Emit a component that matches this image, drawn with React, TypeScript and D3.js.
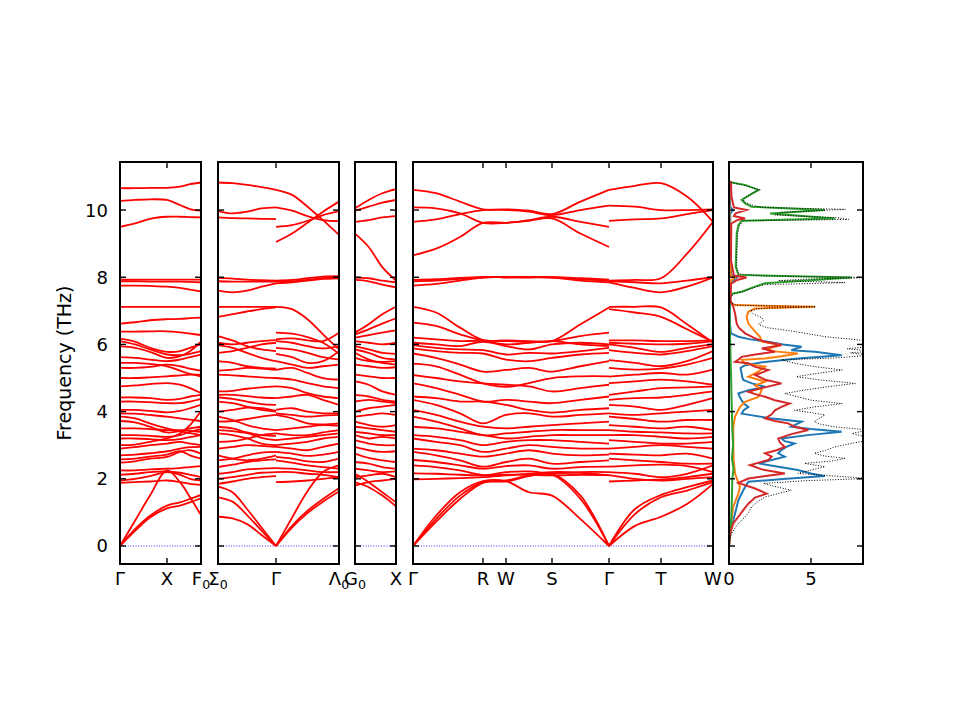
import React from "react";
import * as d3 from "d3";

// frequency ticks (THz) shared by all panels
const freqTicks = [0, 2, 4, 6, 8, 10];
const dosTicks = [0, 5];

// special q-points along each band panel (cumulative path distance)
const pathTicks = [
  [0, 0.47, 0.81],
  [0, 0.58, 1.21],
  [0, 0.41],
  [0, 0.7, 0.93, 1.39, 1.96, 2.48, 3.0],
];
const pathLabels = [
  ["Γ", "X", "F_0"],
  ["Σ_0", "Γ", "Λ_0"],
  ["G_0", "X"],
  ["Γ", "R", "W", "S", "Γ", "T", "W"],
];

// ---- band data, one block per continuous path segment ----
const kGammaXF = [0, 0.15, 0.3, 0.47, 0.6, 0.7, 0.81];
const bandsGammaXF = [
  [10.65, 10.65, 10.66, 10.66, 10.7, 10.77, 10.82],
  [10.27, 10.3, 10.32, 10.3, 10.15, 10.03, 9.98],
  [9.5, 9.6, 9.74, 9.8, 9.8, 9.79, 9.78],
  [7.93, 7.93, 7.93, 7.93, 7.93, 7.93, 7.93],
  [7.88, 7.88, 7.87, 7.87, 7.87, 7.86, 7.85],
  [7.75, 7.75, 7.74, 7.72, 7.68, 7.63, 7.58],
  [7.12, 7.12, 7.12, 7.12, 7.12, 7.12, 7.12],
  [6.62, 6.66, 6.72, 6.75, 6.76, 6.78, 6.8],
  [6.38, 6.38, 6.39, 6.39, 6.36, 6.32, 6.28],
  [6.17, 6.08, 5.9, 5.78, 5.8, 5.9, 6.0],
  [6.1, 6.0, 5.85, 5.7, 5.68, 5.72, 5.8],
  [5.95, 5.9, 5.78, 5.6, 5.65, 5.8, 6.08],
  [5.62, 5.6, 5.55, 5.5, 5.55, 5.62, 5.7],
  [5.45, 5.45, 5.42, 5.35, 5.22, 5.12, 5.05],
  [5.3, 5.3, 5.33, 5.4, 5.35, 5.28, 5.22],
  [5.0, 5.0, 5.02, 5.05, 5.08, 5.1, 5.1],
  [4.75, 4.78, 4.82, 4.85, 4.8, 4.7, 4.55],
  [4.42, 4.42, 4.4, 4.35, 4.38, 4.45, 4.5],
  [4.3, 4.3, 4.28, 4.25, 4.25, 4.3, 4.38],
  [4.05, 4.05, 4.02, 3.98, 4.02, 4.1, 4.2],
  [3.95, 3.94, 3.9, 3.85, 3.8, 3.76, 3.72],
  [3.85, 3.8, 3.65, 3.5, 3.42, 3.36, 3.3],
  [3.72, 3.68, 3.55, 3.38, 3.42, 3.5, 3.55],
  [3.5, 3.5, 3.48, 3.45, 3.45, 3.43, 3.4],
  [3.3, 3.3, 3.28, 3.25, 3.3, 3.4, 3.48],
  [3.2, 3.2, 3.18, 3.15, 3.18, 3.24, 3.3],
  [3.0, 3.02, 3.1, 3.2, 3.35, 3.6, 4.02],
  [2.9, 2.94, 3.0, 3.05, 3.1, 3.05, 3.0],
  [2.7, 2.72, 2.76, 2.82, 2.9, 2.94, 2.95],
  [2.58, 2.6, 2.66, 2.72, 2.82, 2.7, 2.6],
  [2.48, 2.52, 2.6, 2.65, 2.8, 2.85, 2.75],
  [2.25, 2.25, 2.28, 2.3, 2.32, 2.35, 2.38],
  [2.12, 2.15, 2.2, 2.22, 2.18, 2.12, 2.05],
  [1.95, 2.0, 2.08, 2.2, 2.12, 2.0, 1.95],
  [1.88, 1.9, 1.92, 1.95, 1.9, 1.85, 1.82],
  [0, 0.75, 1.5, 2.25, 1.9, 1.45, 0.92],
  [0, 0.5, 0.9, 1.2, 1.3, 1.4, 1.52],
  [0, 0.45, 0.85, 1.12, 1.2, 1.3, 1.42],
];

const kSigmaGamma = [0, 0.145, 0.29, 0.435, 0.58];
const bandsSigmaGamma = [
  [10.82, 10.8, 10.75, 10.68, 10.6],
  [9.97, 9.9, 9.95, 10.05, 10.08],
  [9.78, 9.76, 9.75, 9.74, 9.73],
  [7.98, 7.96, 7.93, 7.91, 7.9],
  [7.88, 7.87, 7.87, 7.87, 7.87],
  [7.6, 7.55, 7.6, 7.72, 7.82],
  [7.12, 7.12, 7.12, 7.12, 7.12],
  [6.82, 6.9, 6.98, 7.05, 7.1],
  [6.25, 6.12, 5.95, 5.85, 5.8],
  [6.05, 6.0, 6.05, 6.1, 6.13],
  [5.98, 5.9, 5.75, 5.6, 5.5],
  [5.75, 5.8, 5.9, 6.0, 6.05],
  [5.5, 5.45, 5.35, 5.3, 5.28],
  [5.22, 5.25, 5.3, 5.28, 5.24],
  [5.1, 5.08, 5.05, 5.02, 5.0],
  [4.6, 4.62, 4.68, 4.72, 4.75],
  [4.5, 4.5, 4.46, 4.42, 4.4],
  [4.42, 4.38, 4.3, 4.22, 4.2],
  [4.3, 4.25, 4.15, 4.05, 4.0],
  [4.0, 4.05, 4.12, 4.1, 4.02],
  [3.85, 3.75, 3.6, 3.5, 3.45],
  [3.7, 3.72, 3.78, 3.85, 3.9],
  [3.55, 3.5, 3.38, 3.3, 3.28],
  [3.45, 3.42, 3.36, 3.22, 3.15],
  [3.35, 3.3, 3.2, 3.05, 3.0],
  [3.1, 3.12, 3.2, 3.3, 3.35],
  [2.9, 2.95, 3.0, 2.98, 2.95],
  [2.7, 2.6, 2.55, 2.6, 2.7],
  [2.55, 2.6, 2.7, 2.78, 2.8],
  [2.35, 2.42, 2.5, 2.55, 2.58],
  [2.15, 2.2, 2.28, 2.3, 2.32],
  [2.0, 2.05, 2.12, 2.18, 2.2],
  [1.85, 1.92, 2.0, 2.05, 2.08],
  [1.77, 1.6, 1.1, 0.55, 0],
  [1.45, 1.32, 0.92, 0.46, 0],
  [0.87, 0.82, 0.65, 0.33, 0],
];

const kGammaLambda = [0.58, 0.74, 0.895, 1.05, 1.21];
const bandsGammaLambda = [
  [10.6, 10.45, 10.1, 9.7, 9.26],
  [10.08, 9.98, 9.82, 9.7, 9.67],
  [9.5, 9.55, 9.68, 9.85, 9.97],
  [9.05, 9.3, 9.62, 9.95, 10.25],
  [7.9, 7.92, 7.97, 8.02, 8.03],
  [7.87, 7.88, 7.92, 7.97, 8.0],
  [7.82, 7.85, 7.9, 7.95, 7.97],
  [7.12, 7.05, 6.75, 6.3, 5.85],
  [6.35, 6.32, 6.22, 6.05, 5.72],
  [6.15, 6.18, 6.12, 6.1, 6.35],
  [6.1, 6.05, 5.95, 5.88, 5.95],
  [5.9, 5.85, 5.75, 5.62, 5.55],
  [5.72, 5.62, 5.45, 5.5, 5.8],
  [5.5, 5.4, 5.3, 5.35, 5.4],
  [5.24, 5.3, 5.15, 5.0, 4.95],
  [5.0, 4.95, 4.85, 4.75, 4.7],
  [4.75, 4.7, 4.55, 4.45, 4.4],
  [4.4, 4.45, 4.5, 4.35, 4.2],
  [4.05, 4.1, 4.0, 3.95, 3.95],
  [3.95, 3.9, 3.85, 3.88, 3.9],
  [3.9, 3.8, 3.65, 3.62, 3.65],
  [3.45, 3.5, 3.55, 3.6, 3.58],
  [3.35, 3.3, 3.3, 3.38, 3.45],
  [3.15, 3.2, 3.25, 3.3, 3.35],
  [3.0, 3.05, 3.1, 3.2, 3.25],
  [2.95, 2.9, 2.85, 2.95, 3.05],
  [2.8, 2.75, 2.68, 2.72, 2.8],
  [2.65, 2.6, 2.52, 2.5, 2.6],
  [2.55, 2.48, 2.4, 2.35, 2.3],
  [2.32, 2.3, 2.25, 2.2, 2.2],
  [2.2, 2.2, 2.15, 2.12, 2.05],
  [1.9, 1.92, 1.95, 2.0, 2.05],
  [0, 0.84, 1.63, 2.2, 2.4],
  [0, 0.6, 1.05, 1.4, 1.72],
  [0, 0.55, 0.98, 1.32, 1.62],
];

const kGX = [0, 0.137, 0.273, 0.41];
const bandsGX = [
  [10.05, 10.3, 10.5, 10.62],
  [9.98, 10.1, 10.22, 10.3],
  [9.65, 9.7, 9.78, 9.82],
  [9.3, 8.9, 8.3, 7.9],
  [7.99, 7.97, 7.9, 7.85],
  [7.92, 7.88, 7.78, 7.7],
  [6.35, 6.6, 6.9, 7.12],
  [6.3, 6.45, 6.62, 6.78],
  [6.2, 6.28, 6.35, 6.42],
  [6.1, 6.05, 6.0, 6.05],
  [5.95, 5.85, 5.75, 5.72],
  [5.85, 5.75, 5.6, 5.55],
  [5.75, 5.55, 5.45, 5.4],
  [5.6, 5.5, 5.48, 5.5],
  [5.4, 5.35, 5.3, 5.32],
  [5.1, 5.05, 5.0, 5.0],
  [4.9, 4.8, 4.6, 4.5],
  [4.5, 4.45, 4.35, 4.3],
  [4.3, 4.35, 4.3, 4.25],
  [4.0, 4.1, 4.15, 4.2],
  [3.85, 3.9, 3.95, 3.9],
  [3.7, 3.6, 3.55, 3.6],
  [3.55, 3.5, 3.45, 3.4],
  [3.4, 3.35, 3.3, 3.3],
  [3.3, 3.2, 3.25, 3.2],
  [3.15, 3.05, 3.0, 3.0],
  [2.95, 2.85, 2.8, 2.82],
  [2.75, 2.62, 2.55, 2.5],
  [2.5, 2.45, 2.35, 2.3],
  [2.3, 2.25, 2.2, 2.22],
  [2.05, 2.1, 2.15, 2.05],
  [2.15, 1.9, 1.6, 1.3],
  [1.9, 1.75, 1.5, 1.18],
  [1.8, 1.9, 1.95, 2.0],
];

const kGRWSG = [0, 0.23, 0.47, 0.7, 0.93, 1.16, 1.39, 1.675, 1.96];
const bandsGRWSG = [
  [10.6, 10.5, 10.25, 10.02, 10.02, 9.98, 9.88, 10.25, 10.6],
  [10.08, 10.05, 9.9, 9.62, 9.62, 9.7, 9.8, 9.65, 9.5],
  [9.65, 9.72, 9.88, 10.0, 10.0, 9.95, 9.85, 10.0, 10.13],
  [8.65, 8.85, 9.2, 9.62, 9.62, 9.68, 9.75, 9.3, 8.9],
  [7.92, 7.94, 7.98, 8.0, 8.0, 8.0, 8.0, 7.97, 7.93],
  [7.88, 7.9, 7.95, 8.0, 8.0, 8.0, 8.0, 7.94, 7.9],
  [7.75, 7.8, 7.9, 7.99, 8.0, 8.0, 7.99, 7.9, 7.85],
  [7.12, 6.95, 6.5, 6.13, 6.12, 6.1, 6.1, 6.6, 7.1],
  [6.65, 6.55, 6.3, 6.12, 6.1, 6.08, 6.1, 6.25, 6.35],
  [6.2, 6.15, 6.1, 6.1, 6.0, 6.05, 6.1, 6.0, 5.95],
  [6.05, 6.0, 5.95, 6.08, 5.95, 5.85, 6.0, 6.05, 6.0],
  [5.98, 5.9, 5.85, 5.83, 5.7, 5.75, 5.73, 5.8, 5.9],
  [5.88, 5.8, 5.75, 5.73, 5.55, 5.5, 5.6, 5.7, 5.75],
  [5.73, 5.6, 5.4, 5.19, 5.24, 5.3, 5.19, 5.35, 5.5],
  [5.43, 5.35, 5.1, 4.84, 4.74, 4.85, 5.0, 5.05, 5.05],
  [5.09, 5.0, 4.9, 4.84, 4.8, 4.75, 4.6, 4.7, 4.8],
  [4.84, 4.7, 4.5, 4.3, 4.35, 4.3, 4.25, 4.35, 4.45],
  [4.45, 4.4, 4.3, 4.3, 4.2, 4.05, 3.97, 4.05, 4.1],
  [4.35, 4.2, 3.95, 3.65, 3.9, 3.95, 3.85, 3.9, 3.95],
  [4.05, 3.9, 3.7, 3.55, 3.5, 3.55, 3.6, 3.65, 3.7],
  [3.85, 3.7, 3.5, 3.3, 3.35, 3.4, 3.45, 3.45, 3.45],
  [3.55, 3.5, 3.4, 3.3, 3.2, 3.25, 3.3, 3.3, 3.3],
  [3.3, 3.25, 3.15, 3.0, 3.1, 3.15, 3.15, 3.1, 3.05],
  [3.2, 3.1, 3.0, 2.8, 2.9, 3.0, 2.95, 2.9, 2.9],
  [2.9, 2.85, 2.75, 2.66, 2.75, 2.85, 2.75, 2.7, 2.72],
  [2.8, 2.7, 2.55, 2.36, 2.5, 2.6, 2.45, 2.5, 2.55],
  [2.56, 2.5, 2.4, 2.3, 2.38, 2.4, 2.3, 2.35, 2.36],
  [2.4, 2.35, 2.25, 2.11, 2.2, 2.22, 2.16, 2.2, 2.2],
  [2.16, 2.15, 2.12, 2.1, 2.12, 2.12, 2.1, 2.12, 2.11],
  [1.98, 2.0, 2.02, 2.05, 2.1, 2.15, 2.2, 2.18, 2.1],
  [0, 0.9, 1.6, 1.93, 1.93, 1.6, 1.5, 0.8, 0],
  [0, 0.8, 1.5, 1.9, 1.92, 2.08, 2.12, 1.4, 0],
  [0, 0.72, 1.4, 1.88, 1.95, 2.1, 2.15, 1.5, 0],
];

const kGTW = [1.96, 2.22, 2.48, 2.74, 3.0];
const bandsGTW = [
  [10.6, 10.72, 10.8, 10.4, 9.65],
  [10.13, 10.1, 10.0, 10.0, 10.02],
  [9.68, 9.72, 9.75, 9.88, 10.0],
  [7.9, 7.92, 7.97, 8.7, 9.65],
  [7.88, 7.85, 7.82, 7.9, 8.0],
  [7.85, 7.68, 7.55, 7.72, 7.99],
  [7.12, 7.12, 7.1, 6.6, 6.05],
  [7.05, 6.95, 6.82, 6.45, 6.08],
  [6.12, 6.12, 6.1, 6.1, 6.12],
  [6.05, 6.02, 6.0, 6.02, 6.1],
  [6.0, 5.9, 5.78, 5.9, 6.0],
  [5.83, 5.75, 5.7, 5.8, 5.95],
  [5.53, 5.45, 5.35, 5.5, 5.8],
  [5.3, 5.25, 5.28, 5.4, 5.6],
  [5.04, 5.1, 5.15, 5.1, 5.25],
  [4.85, 4.9, 4.95, 4.9, 4.8],
  [4.5, 4.6, 4.7, 4.72, 4.75],
  [4.35, 4.4, 4.42, 4.5, 4.6],
  [4.2, 4.15, 4.05, 4.2, 4.4],
  [3.95, 3.9, 3.95, 4.0, 4.05],
  [3.85, 3.78, 3.7, 3.75, 3.75],
  [3.6, 3.55, 3.5, 3.55, 3.45],
  [3.45, 3.4, 3.38, 3.35, 3.35],
  [3.3, 3.3, 3.25, 3.2, 3.25],
  [3.15, 3.1, 3.05, 3.05, 3.1],
  [2.9, 2.95, 3.0, 2.95, 2.9],
  [2.75, 2.72, 2.7, 2.75, 2.6],
  [2.6, 2.55, 2.5, 2.45, 2.45],
  [2.36, 2.4, 2.42, 2.38, 2.2],
  [2.2, 2.15, 2.05, 2.15, 2.4],
  [2.11, 2.0, 1.95, 2.0, 2.05],
  [1.92, 1.95, 1.98, 2.05, 2.15],
  [0, 1.1, 1.52, 1.75, 1.95],
  [0, 0.95, 1.45, 1.65, 1.9],
  [0, 0.6, 0.87, 1.25, 1.85],
];

// ---- DOS: [frequency, states] pairs ----
const dosTotal = [
  [0, 0], [0.18, 0.05], [0.37, 0.16], [0.52, 0.35], [0.67, 0.57], [0.77, 0.8], [0.87, 0.98],
  [1.0, 1.2], [1.17, 1.38], [1.3, 1.7], [1.46, 2.2], [1.56, 3.0], [1.66, 3.8], [1.76, 2.9],
  [1.86, 2.1], [1.94, 4.5], [2.01, 8.5], [2.08, 6.5], [2.16, 4.2], [2.26, 5.0], [2.36, 5.85],
  [2.46, 4.6], [2.53, 6.3], [2.61, 7.07], [2.68, 5.8], [2.76, 5.2], [2.85, 5.9], [2.95, 6.46],
  [3.05, 7.4], [3.15, 8.6], [3.25, 8.3], [3.35, 7.5], [3.45, 8.5], [3.55, 6.4], [3.62, 5.6],
  [3.7, 5.2], [3.8, 5.5], [3.9, 5.85], [3.97, 5.0], [4.04, 4.0], [4.14, 5.2], [4.24, 6.9],
  [4.34, 5.0], [4.44, 4.2], [4.54, 3.4], [4.64, 4.6], [4.74, 6.0], [4.84, 7.7], [4.94, 5.6],
  [5.04, 4.1], [5.14, 5.4], [5.24, 6.9], [5.34, 5.2], [5.44, 4.0], [5.54, 3.2], [5.6, 6.6],
  [5.68, 8.6], [5.75, 7.4], [5.8, 8.8], [5.87, 7.2], [5.93, 8.5], [6.0, 8.2], [6.08, 8.8],
  [6.15, 7.6], [6.23, 5.85], [6.32, 4.8], [6.4, 3.8], [6.5, 2.3], [6.6, 1.8], [6.7, 2.1],
  [6.8, 2.0], [6.9, 1.5], [7.0, 1.3], [7.07, 1.8], [7.12, 5.3], [7.17, 0.4], [7.25, 0.08],
  [7.4, 0.1], [7.5, 0.28], [7.57, 0.85], [7.65, 1.3], [7.72, 1.7], [7.78, 2.2], [7.84, 7.07],
  [7.9, 3.0], [7.95, 5.0], [7.99, 8.6], [8.04, 2.0], [8.1, 0.6], [8.3, 0.47], [8.8, 0.48],
  [9.3, 0.53], [9.55, 0.65], [9.68, 0.9], [9.72, 7.3], [9.77, 6.6], [9.85, 2.8], [9.93, 3.2],
  [10.02, 7.1], [10.08, 2.0], [10.15, 1.4], [10.25, 0.9], [10.35, 0.9], [10.5, 1.4],
  [10.6, 1.9], [10.7, 1.2], [10.8, 0.3], [10.85, 0],
];
const dosBlue = [
  [0, 0], [0.27, 0.04], [0.57, 0.16], [0.97, 0.37], [1.36, 0.57], [1.66, 0.87], [1.91, 1.18],
  [2.0, 3.5], [2.08, 5.85], [2.16, 5.0], [2.26, 4.2], [2.36, 3.0], [2.46, 1.79], [2.56, 2.6],
  [2.66, 3.4], [2.76, 3.0], [2.86, 3.2], [2.95, 3.5], [3.05, 4.0], [3.12, 3.4], [3.2, 3.2],
  [3.3, 4.8], [3.4, 6.87], [3.48, 5.0], [3.55, 3.8], [3.62, 4.1], [3.7, 4.43], [3.8, 2.5],
  [3.94, 0.77], [4.04, 0.9], [4.14, 1.18], [4.24, 0.9], [4.34, 0.77], [4.44, 0.65],
  [4.54, 0.57], [4.64, 1.2], [4.74, 2.2], [4.84, 1.4], [4.94, 0.87], [5.04, 0.8], [5.14, 0.77],
  [5.3, 0.7], [5.38, 0.98], [5.48, 2.2], [5.58, 4.2], [5.68, 6.87], [5.78, 5.24], [5.83, 3.8],
  [5.93, 4.43], [6.0, 3.3], [6.08, 2.4], [6.15, 1.3], [6.23, 0.57], [6.33, 0.12], [6.6, 0.06],
  [7.2, 0.05], [7.8, 0.1], [7.92, 0.3], [7.99, 0.47], [8.06, 0.15], [8.5, 0.05], [9.9, 0.08],
  [10.0, 0.26], [10.08, 0.08], [10.85, 0.03], [10.9, 0],
];
const dosOrange = [
  [0, 0], [0.57, 0.1], [1.17, 0.26], [1.56, 0.57], [1.76, 0.67], [2.01, 0.47], [2.16, 0.37],
  [2.56, 0.28], [3.05, 0.26], [3.55, 0.26], [3.85, 0.37], [4.14, 0.67], [4.29, 0.98],
  [4.44, 1.79], [4.64, 2.0], [4.78, 1.6], [4.89, 2.2], [5.04, 1.18], [5.19, 1.79], [5.34, 2.2],
  [5.43, 0.98], [5.54, 0.77], [5.58, 2.2], [5.65, 3.2], [5.73, 4.2], [5.8, 2.6], [5.88, 2.4],
  [5.98, 3.2], [6.08, 2.0], [6.23, 1.89], [6.38, 1.59], [6.62, 1.18], [6.82, 1.07],
  [6.97, 1.18], [7.07, 1.59], [7.12, 5.24], [7.17, 0.37], [7.25, 0.05], [7.9, 0.1],
  [7.99, 0.35], [8.05, 0.1], [9.0, 0.04], [10.85, 0.02], [10.9, 0],
];
const dosGreen = [
  [0, 0], [0.5, 0.1], [1.0, 0.15], [1.5, 0.18], [2.0, 0.2], [2.3, 0.28], [2.6, 0.18], [3.0, 0.25],
  [3.5, 0.2], [4.0, 0.18], [4.5, 0.15], [5.0, 0.13], [5.5, 0.1], [6.0, 0.08], [6.5, 0.05],
  [7.0, 0.03], [7.42, 0.05], [7.52, 0.26], [7.57, 0.77], [7.72, 1.59], [7.82, 2.2],
  [7.99, 7.48], [8.07, 0.57], [8.31, 0.41], [9.3, 0.47], [9.55, 0.57], [9.68, 0.77],
  [9.75, 6.46], [9.9, 2.5], [10.0, 5.85], [10.1, 1.38], [10.2, 0.98], [10.3, 0.77],
  [10.6, 1.79], [10.75, 0.98], [10.82, 0.16], [10.85, 0],
];
const dosRed = [
  [0, 0], [0.37, 0.06], [0.67, 0.26], [0.87, 0.57], [1.07, 0.87], [1.26, 1.18], [1.44, 1.59],
  [1.56, 2.3], [1.71, 1.59], [1.88, 0.57], [2.01, 1.18], [2.16, 3.4], [2.28, 2.0], [2.41, 1.28],
  [2.56, 2.4], [2.66, 2.6], [2.76, 2.2], [2.85, 2.9], [2.95, 3.4], [3.08, 3.1], [3.2, 3.0],
  [3.33, 3.8], [3.45, 4.84], [3.55, 4.0], [3.65, 3.6], [3.72, 2.8], [3.8, 2.2], [3.92, 2.6],
  [4.04, 2.8], [4.14, 3.2], [4.24, 3.7], [4.34, 2.8], [4.44, 2.2], [4.52, 1.6], [4.59, 1.18],
  [4.7, 2.0], [4.84, 3.2], [4.95, 2.2], [5.09, 1.59], [5.16, 2.0], [5.24, 2.4], [5.33, 1.59],
  [5.44, 1.18], [5.48, 0.37], [5.56, 0.6], [5.63, 0.77], [5.7, 1.6], [5.78, 2.8], [5.88, 2.0],
  [5.98, 3.2], [6.08, 2.2], [6.18, 1.59], [6.33, 0.98], [6.5, 0.6], [6.62, 0.47], [6.92, 0.37],
  [7.12, 0.26], [7.3, 0.1], [7.8, 0.12], [7.92, 0.5], [7.99, 1.07], [8.05, 0.3], [8.5, 0.12],
  [9.6, 0.14], [9.7, 0.5], [9.75, 0.98], [9.82, 0.3], [9.9, 0.4], [10.0, 1.07], [10.08, 0.3],
  [10.4, 0.15], [10.82, 0.12], [10.85, 0],
];

const segments = [
  { panel: 0, k: kGammaXF, bands: bandsGammaXF },
  { panel: 1, k: kSigmaGamma, bands: bandsSigmaGamma },
  { panel: 1, k: kGammaLambda, bands: bandsGammaLambda },
  { panel: 2, k: kGX, bands: bandsGX },
  { panel: 3, k: kGRWSG, bands: bandsGRWSG },
  { panel: 3, k: kGTW, bands: bandsGTW },
];
const dosSeries = [
  { data: dosBlue, color: "#1f77b4" },
  { data: dosOrange, color: "#ff7f0e" },
  { data: dosGreen, color: "#2ca02c" },
  { data: dosRed, color: "#d62728" },
];

// layout
const boxes = [
  { x0: 120, x1: 201 },
  { x0: 218, x1: 339 },
  { x0: 355, x1: 396 },
  { x0: 413, x1: 713 },
];
const dosBox = { x0: 729, x1: 863 };
const TOP = 162;
const BOTTOM = 564;
const TICK = 6;
const FONT = "DejaVu Sans, Liberation Sans, sans-serif";

const y = d3.scaleLinear().domain([-0.536, 11.43]).range([BOTTOM, TOP]);

const SubLabel = ({ x, text }: { x: number; text: string }) => {
  const [main, sub] = text.split("_");
  return (
    <text x={x} y={585} textAnchor="middle" fontSize={18} fontFamily={FONT}>
      {main}
      {sub && (
        <tspan fontSize={12.6} dy={4}>
          {sub}
        </tspan>
      )}
    </text>
  );
};

const App: React.FC = () => {
  const xs = boxes.map((b, i) =>
    d3
      .scaleLinear()
      .domain([0, pathTicks[i][pathTicks[i].length - 1]])
      .range([b.x0, b.x1])
  );
  const xDos = d3.scaleLinear().domain([0, 8.17]).range([dosBox.x0, dosBox.x1]);

  const dosLine = d3
    .line<number[]>()
    .x((d) => xDos(d[1]))
    .y((d) => y(d[0]));

  const yTickMarks = (x0: number, x1: number) =>
    freqTicks.map((t) => (
      <g key={t}>
        <line x1={x0} x2={x0 + TICK} y1={y(t)} y2={y(t)} stroke="#000" strokeWidth={1.4} />
        <line x1={x1} x2={x1 - TICK} y1={y(t)} y2={y(t)} stroke="#000" strokeWidth={1.4} />
      </g>
    ));

  return (
    <svg
      width={960}
      height={720}
      style={{ position: "absolute", left: 0, top: 0, background: "#fff" }}
    >
      <defs>
        {boxes.map((b, i) => (
          <clipPath id={`clip${i}`} key={i}>
            <rect x={b.x0} y={TOP} width={b.x1 - b.x0} height={BOTTOM - TOP} />
          </clipPath>
        ))}
        <clipPath id="clipDos">
          <rect x={dosBox.x0} y={TOP} width={dosBox.x1 - dosBox.x0} height={BOTTOM - TOP} />
        </clipPath>
      </defs>

      {/* band panels */}
      {boxes.map((b, i) => (
        <g key={i}>
          <line
            x1={b.x0}
            x2={b.x1}
            y1={y(0)}
            y2={y(0)}
            stroke="#0000ff"
            strokeWidth={0.8}
            strokeDasharray="1 1.6"
          />
          <g clipPath={`url(#clip${i})`}>
            {segments
              .filter((s) => s.panel === i)
              .map((s, si) => {
                const line = d3
                  .line<number>()
                  .x((_, j) => xs[i](s.k[j]))
                  .y((d) => y(d))
                  .curve(d3.curveCatmullRom.alpha(0.5));
                return s.bands.map((band, bi) => (
                  <path
                    key={`${si}-${bi}`}
                    d={line(band) || ""}
                    fill="none"
                    stroke="#ff0000"
                    strokeWidth={1.8}
                  />
                ));
              })}
          </g>
          {yTickMarks(b.x0, b.x1)}
          {pathTicks[i].map((t, ti) => (
            <g key={ti}>
              <line x1={xs[i](t)} x2={xs[i](t)} y1={TOP} y2={TOP + TICK} stroke="#000" strokeWidth={1.4} />
              <line x1={xs[i](t)} x2={xs[i](t)} y1={BOTTOM} y2={BOTTOM - TICK} stroke="#000" strokeWidth={1.4} />
              <SubLabel x={xs[i](t)} text={pathLabels[i][ti]} />
            </g>
          ))}
          <rect
            x={b.x0}
            y={TOP}
            width={b.x1 - b.x0}
            height={BOTTOM - TOP}
            fill="none"
            stroke="#000"
            strokeWidth={2}
          />
        </g>
      ))}

      {/* y tick labels and axis title */}
      {freqTicks.map((t) => (
        <text
          key={t}
          x={108}
          y={y(t) + 6.5}
          textAnchor="end"
          fontSize={18}
          fontFamily={FONT}
        >
          {t}
        </text>
      ))}
      <text
        transform={`translate(70.5, ${(TOP + BOTTOM) / 2}) rotate(-90)`}
        textAnchor="middle"
        fontSize={19}
        fontFamily={FONT}
      >
        Frequency (THz)
      </text>

      {/* DOS panel */}
      <g clipPath="url(#clipDos)">
        {dosSeries.map((s, i) => (
          <path key={i} d={dosLine(s.data) || ""} fill="none" stroke={s.color} strokeWidth={2} />
        ))}
        <path
          d={dosLine(dosTotal) || ""}
          fill="none"
          stroke="#000"
          strokeWidth={1}
          strokeDasharray="1 1.65"
        />
      </g>
      {yTickMarks(dosBox.x0, dosBox.x1)}
      {dosTicks.map((t) => (
        <g key={t}>
          <line x1={xDos(t)} x2={xDos(t)} y1={TOP} y2={TOP + TICK} stroke="#000" strokeWidth={1.4} />
          <line x1={xDos(t)} x2={xDos(t)} y1={BOTTOM} y2={BOTTOM - TICK} stroke="#000" strokeWidth={1.4} />
          <text x={xDos(t)} y={585} textAnchor="middle" fontSize={18} fontFamily={FONT}>
            {t}
          </text>
        </g>
      ))}
      <rect
        x={dosBox.x0}
        y={TOP}
        width={dosBox.x1 - dosBox.x0}
        height={BOTTOM - TOP}
        fill="none"
        stroke="#000"
        strokeWidth={2}
      />
    </svg>
  );
};

export default App;
